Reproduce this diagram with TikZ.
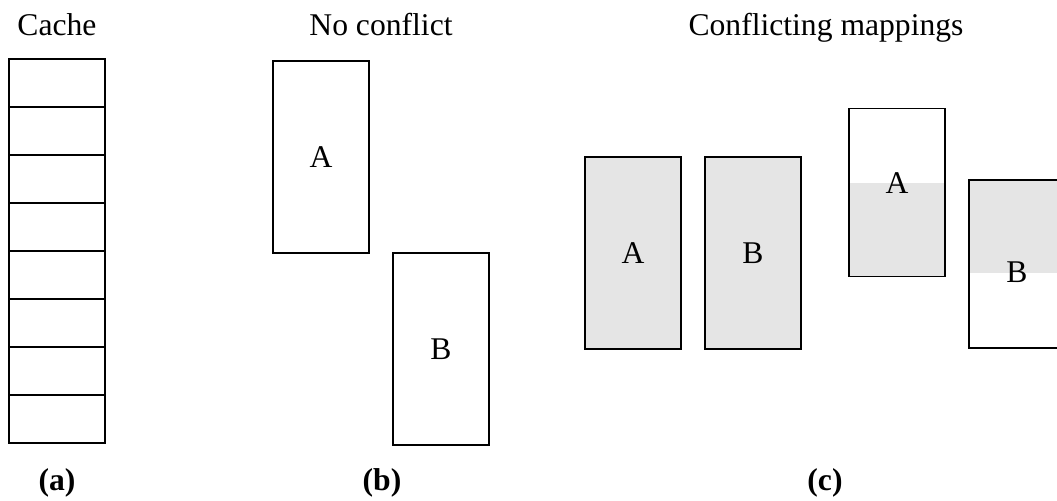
\documentclass[tikz,border=0pt]{standalone}
\usepackage{fontspec}
\setmainfont{Liberation Serif}
\usetikzlibrary{%
  chains,%
  positioning% wg. " of "
}
\definecolor{mapgray}{RGB}{229,229,229}

\begin{document}
\begin{tikzpicture}[
    x=0.02cm,y=-0.02cm,
    line width=0.75pt,
    every node/.style={font=\fontsize{18}{21}\selectfont},
    title/.style={anchor=base},
    caption/.style={anchor=base,font=\fontsize{18}{21}\selectfont\bfseries},
    line/.style={rectangle,draw,outer sep=0pt,inner sep=0pt,
        minimum width=1.92cm,minimum height=0.96cm},
    block/.style={rectangle,draw,outer sep=0pt,
        minimum width=1.92cm,minimum height=3.84cm},
    shortblock/.style={rectangle,draw,outer sep=0pt,
        minimum width=1.92cm,minimum height=3.36cm},
    mapped/.style={fill=mapgray},
    node distance=0pt
  ]
    \useasboundingbox (0,0) rectangle (1057,500);

    % (a) the cache
    \node [title] (cachetitle) at (57,36) {Cache};
    \begin{scope}[start chain=going below,
            every node/.style={on chain}]
        \node [line] (line1) at (57,83) {};
        \foreach \i in {2,...,8}
            \node [line] (line\i) {};
    \end{scope}
    \node [caption] (capa) at (57,490) {(a)};

    % (b) no conflict
    \node [title] (nctitle) at (381,36) {No conflict};
    \node [block] (nca) at (321,157) {A};
    \node [block,anchor=north west] (ncb)
        at ([xshift=0.48cm]nca.south east) {B};
    \node [caption] (capb) at (382,490) {(b)};

    % (c) conflicting mappings
    \node [title] (cftitle) at (826,36) {Conflicting mappings};
    \node [block,mapped] (cfa) at (633,253) {A};
    \node [block,mapped,right=0.48cm of cfa] (cfb) {B};

    \fill [mapgray] (849,183) rectangle (945,276);
    \node [shortblock] (sha) at (897,192.5) {};
    \node (shalabel) at (897,183) {A};

    \fill [mapgray] (969,180) rectangle (1065,273);
    \node [shortblock] (shb) at (1017,264) {};
    \node (shblabel) at (1017,272) {B};

    \node [caption] (capc) at (825,490) {(c)};
\end{tikzpicture}
\end{document}
